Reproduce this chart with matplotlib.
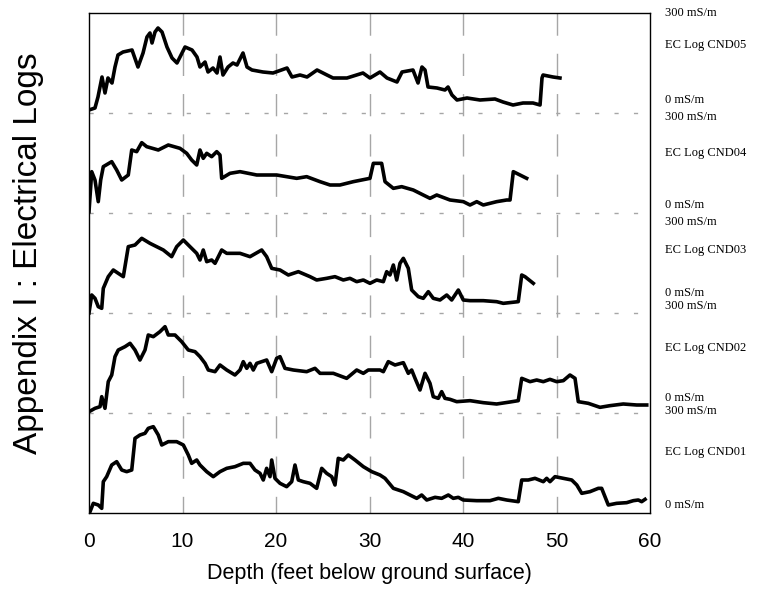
import matplotlib
matplotlib.use("Agg")
import matplotlib.pyplot as plt
import matplotlib.transforms as mtransforms

# ---------------- data (depth in feet, EC in mS/m) ----------------
cnd05_depth = [0.0, 0.64, 0.96, 1.39, 1.71, 2.03, 2.46, 2.78, 3.10, 3.64, 4.60, 5.24, 5.78, 6.20, 6.52,
               6.74, 7.06, 7.38, 7.81, 8.34, 8.88, 9.41, 9.95, 10.27, 11.02, 11.55, 11.87, 12.41, 12.73,
               13.26, 13.69, 14.01, 14.33, 14.87, 15.40, 15.83, 16.47, 16.90, 17.43, 18.61, 19.68, 21.18,
               21.71, 22.57, 23.32, 24.39, 25.45, 26.10, 27.59, 29.30, 30.05, 31.12, 31.87, 32.94, 33.48,
               34.65, 35.19, 35.61, 35.94, 36.26, 37.22, 38.07, 38.40, 38.82, 39.36, 40.43, 41.82, 43.42,
               44.28, 45.35, 46.42, 47.49, 48.24, 48.45, 48.56, 49.63, 50.37]
cnd05_ec = [9, 15, 48, 108, 60, 105, 90, 138, 174, 183, 189, 138, 180, 228, 240,
            210, 243, 255, 243, 198, 165, 150, 180, 198, 189, 168, 138, 153, 123,
            135, 120, 168, 114, 138, 150, 144, 180, 138, 129, 123, 120, 135,
            108, 114, 108, 129, 114, 105, 105, 120, 105, 123, 105, 93, 123,
            129, 90, 138, 129, 78, 75, 69, 78, 54, 39, 45, 39, 42,
            33, 24, 30, 30, 24, 105, 114, 108, 105]

cnd04_depth = [0.0, 0.29, 0.64, 0.99, 1.25, 1.53, 2.43, 2.96, 3.50, 4.20, 4.57, 5.10, 5.64, 6.17, 7.41,
               8.48, 9.73, 10.45, 10.98, 11.52, 11.87, 12.22, 12.59, 13.12, 13.66, 14.01, 14.19, 15.08,
               16.15, 17.94, 20.07, 22.21, 23.28, 24.71, 25.78, 26.84, 28.27, 30.05, 30.41, 31.30, 31.66,
               32.55, 33.44, 34.68, 35.75, 36.47, 37.19, 38.61, 40.04, 40.75, 41.47, 42.17, 43.60, 44.67,
               45.03, 45.38, 45.74, 46.81]
cnd04_ec = [4, 124, 99, 34, 99, 139, 154, 129, 99, 114, 189, 184, 211, 199, 189,
            204, 194, 179, 159, 144, 189, 164, 179, 169, 184, 174, 104, 119,
            124, 114, 114, 104, 109, 94, 84, 84, 94, 104, 149, 149, 94,
            74, 79, 69, 54, 44, 54, 39, 34, 24, 34, 24, 34, 39,
            39, 124, 119, 104]

cnd03_depth = [0.0, 0.29, 0.64, 0.99, 1.36, 1.53, 2.06, 2.60, 3.13, 3.67, 4.20, 4.92, 5.64, 6.52, 7.95,
               8.84, 9.38, 10.09, 10.80, 11.52, 11.87, 12.22, 12.59, 13.12, 13.48, 14.19, 14.73, 16.15,
               17.22, 18.47, 19.00, 19.54, 20.43, 21.32, 22.39, 23.64, 24.35, 25.42, 26.31, 27.20, 27.91,
               28.63, 29.34, 30.05, 30.77, 31.48, 31.84, 32.19, 32.55, 32.91, 33.26, 33.62, 34.15, 34.51,
               35.22, 35.75, 36.29, 36.82, 37.54, 38.26, 38.79, 39.50, 40.03, 40.75, 42.17, 43.60, 44.31,
               45.91, 46.28, 46.63, 47.52]
cnd03_ec = [0, 54, 44, 19, 14, 74, 109, 129, 119, 109, 199, 204, 224, 209, 189,
            169, 199, 219, 199, 179, 159, 189, 154, 159, 149, 189, 179, 179,
            169, 189, 169, 134, 129, 114, 124, 109, 99, 104, 109, 99, 104,
            94, 99, 89, 99, 94, 124, 114, 144, 99, 149, 164, 134, 69,
            49, 44, 64, 44, 39, 54, 39, 69, 39, 37, 37, 34, 29,
            34, 114, 109, 89]

cnd02_depth = [0.0, 0.64, 1.18, 1.36, 1.71, 2.06, 2.43, 2.78, 3.13, 3.85, 4.39, 4.92, 5.45, 5.99, 6.34,
               6.88, 7.59, 8.13, 8.48, 9.20, 9.91, 10.62, 11.34, 11.87, 12.41, 12.76, 13.48, 14.01,
               14.73, 15.61, 16.15, 16.50, 16.87, 17.22, 17.57, 17.94, 18.47, 19.00, 19.54, 20.07, 20.43,
               20.96, 21.85, 23.28, 24.17, 24.71, 26.13, 27.56, 28.63, 29.34, 29.87, 31.12, 31.48, 32.01,
               32.73, 33.62, 34.15, 34.51, 34.87, 35.40, 35.94, 36.47, 36.82, 37.36, 37.72, 38.07, 38.61,
               39.33, 40.75, 42.17, 43.60, 45.03, 45.91, 46.28, 47.17, 47.88, 48.59, 49.30, 50.02, 50.73,
               51.44, 51.98, 52.33, 53.40, 54.65, 55.72, 57.14, 58.58, 59.65]
cnd02_ec = [4, 14, 19, 49, 14, 94, 114, 169, 189, 199, 209, 189, 159, 189, 234,
            229, 244, 259, 234, 234, 214, 189, 184, 169, 149, 129, 124, 144,
            129, 114, 129, 154, 134, 149, 129, 149, 154, 159, 124, 164, 169,
            134, 129, 124, 134, 119, 119, 104, 129, 119, 129, 129, 124, 154,
            144, 151, 119, 129, 104, 69, 119, 89, 49, 44, 64, 44, 41,
            34, 37, 31, 27, 33, 37, 104, 94, 99, 94, 101, 94, 97,
            114, 104, 34, 29, 17, 22, 27, 24, 24]

cnd01_depth = [0.11, 0.46, 0.99, 1.36, 1.53, 1.89, 2.43, 2.96, 3.50, 4.03, 4.57, 4.92, 5.45, 5.99, 6.34,
               6.88, 7.41, 7.78, 8.48, 9.38, 10.09, 10.62, 10.98, 11.52, 11.87, 12.59, 13.29, 14.01,
               14.73, 15.61, 16.50, 17.22, 17.75, 18.29, 18.64, 19.00, 19.36, 19.54, 19.89, 20.43, 21.14,
               21.68, 22.03, 22.39, 22.92, 23.64, 24.35, 24.89, 25.42, 25.96, 26.31, 26.66, 27.20, 27.73,
               28.45, 29.34, 30.24, 31.12, 31.66, 32.55, 33.62, 34.33, 35.05, 35.58, 36.12, 37.01, 37.72,
               38.43, 38.96, 39.50, 40.03, 41.47, 42.89, 43.78, 44.67, 45.91, 46.28, 46.98, 47.70, 48.59,
               48.95, 49.30, 49.84, 50.73, 51.63, 52.17, 52.70, 53.58, 54.47, 54.83, 55.54, 56.43, 57.50,
               58.22, 58.75, 59.11, 59.47]
cnd01_ec = [4, 29, 24, 14, 94, 109, 144, 154, 129, 124, 129, 224, 234, 239, 254,
            259, 234, 204, 214, 214, 204, 174, 149, 159, 144, 124, 109, 124,
            134, 139, 149, 149, 129, 119, 99, 134, 109, 159, 104, 89, 79,
            94, 144, 99, 94, 89, 74, 134, 119, 109, 84, 164, 159, 174,
            159, 139, 124, 114, 104, 74, 64, 54, 44, 54, 39, 47, 44,
            54, 44, 47, 39, 37, 37, 44, 39, 34, 99, 99, 104, 94,
            104, 94, 109, 104, 99, 84, 59, 64, 74, 74, 24, 29, 31,
            37, 39, 34, 41]

log_names = ["EC Log CND01", "EC Log CND02", "EC Log CND03", "EC Log CND04", "EC Log CND05"]
log_depths = [cnd01_depth, cnd02_depth, cnd03_depth, cnd04_depth, cnd05_depth]
log_values = [cnd01_ec, cnd02_ec, cnd03_ec, cnd04_ec, cnd05_ec]
x_ticks = [0, 10, 20, 30, 40, 50, 60]
scale_max = 300  # mS/m per panel

# label vertical positions (in stacked data units), bottom panel first
top_label_y = [306, 621, 873, 1188, 1500]
name_label_y = [183, 495, 789, 1080, 1404]
zero_label_y = [24, 345, 660, 924, 1239]

# ---------------- figure ----------------
fig = plt.figure(figsize=(7.68, 5.90), dpi=100)
ax = fig.add_axes([89 / 768, 1 - 513 / 590, (650 - 89) / 768, 500 / 590])

n = len(log_names)
ax.set_xlim(0, 60)
ax.set_ylim(0, n * scale_max)

# grid lines
for xv in x_ticks[1:-1]:
    ax.plot([xv, xv], [n * scale_max, 0], color="#a6a6a6", lw=1.0,
            dashes=(16, 13), zorder=1)
for i in range(1, n):
    ax.plot([0, 60], [i * scale_max, i * scale_max], color="#a6a6a6", lw=1.0,
            dashes=(3, 11), zorder=1)

# logs
for i in range(n):
    ys = [v + i * scale_max for v in log_values[i]]
    ax.plot(log_depths[i], ys, color="black", lw=2.6, solid_joinstyle="round", zorder=3)

# right-side labels
trans = mtransforms.blended_transform_factory(ax.transAxes, ax.transData)
for i in range(n):
    kw = dict(transform=trans, fontsize=9, family="Liberation Serif", ha="left",
              va="center", clip_on=False)
    ax.text(1.026, top_label_y[i], "300 mS/m", **kw)
    ax.text(1.026, name_label_y[i], log_names[i], **kw)
    ax.text(1.026, zero_label_y[i], "0 mS/m", **kw)

ax.set_xticks(x_ticks)
ax.set_xticklabels([str(t) for t in x_ticks], family="Liberation Sans", fontsize=15)
ax.tick_params(axis="x", length=0, pad=14)
ax.set_yticks([])
ax.set_xlabel("Depth (feet below ground surface)", family="Liberation Sans", fontsize=15.5,
              labelpad=8.5)
for sp in ax.spines.values():
    sp.set_color("black")
    sp.set_linewidth(1.0)

fig.text(0.037, 0.571, "Appendix I : Electrical Logs", rotation=90, ha="center",
         va="center", family="Liberation Sans", fontsize=24)

fig.savefig("out.png", dpi=100)
